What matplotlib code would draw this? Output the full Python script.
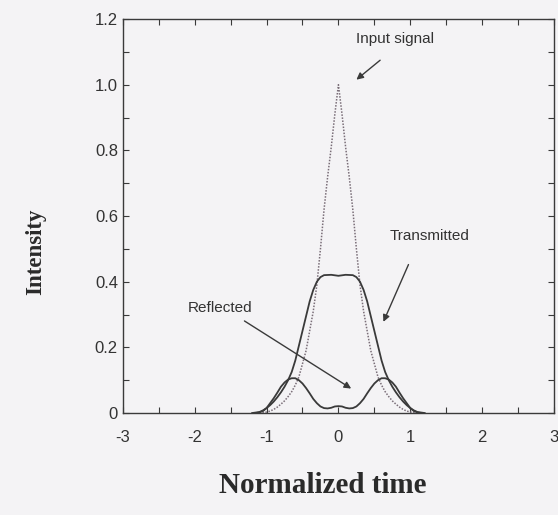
import numpy as np
import matplotlib
matplotlib.use('Agg')
import matplotlib.pyplot as plt
from matplotlib.ticker import MultipleLocator, FixedLocator

# values (right halves mirror the left halves)
t_input = [-1.1, -1.0, -0.95, -0.9, -0.85, -0.8, -0.75, -0.7, -0.65, -0.6, -0.55, -0.5,
           -0.45, -0.4, -0.35, -0.3, -0.25, -0.2, -0.15, -0.1, -0.05, 0.0,
           0.05, 0.1, 0.15, 0.2, 0.25, 0.3, 0.35, 0.4, 0.45, 0.5, 0.55, 0.6,
           0.65, 0.7, 0.75, 0.8, 0.85, 0.9, 0.95, 1.0, 1.1]
input_signal = [0.0, 0.003, 0.006, 0.011, 0.018, 0.027, 0.037, 0.05, 0.065, 0.085, 0.11, 0.15,
                0.19, 0.25, 0.31, 0.39, 0.5, 0.62, 0.72, 0.81, 0.91, 1.0,
                0.91, 0.81, 0.72, 0.62, 0.5, 0.39, 0.31, 0.25, 0.19, 0.15, 0.11, 0.085,
                0.065, 0.05, 0.037, 0.027, 0.018, 0.011, 0.006, 0.003, 0.0]

t_trans = [-1.2, -1.1, -1.05, -1.0, -0.95, -0.9, -0.85, -0.8, -0.75, -0.7, -0.65, -0.6,
           -0.55, -0.5, -0.45, -0.4, -0.35, -0.3, -0.25, -0.2, -0.1, 0.0,
           0.1, 0.2, 0.25, 0.3, 0.35, 0.4, 0.45, 0.5, 0.55, 0.6, 0.65, 0.7,
           0.75, 0.8, 0.85, 0.9, 0.95, 1.0, 1.05, 1.1, 1.2]
transmitted = [0.0, 0.003, 0.008, 0.015, 0.024, 0.035, 0.048, 0.063, 0.08, 0.1, 0.125, 0.16,
               0.205, 0.25, 0.295, 0.34, 0.375, 0.4, 0.414, 0.42, 0.421, 0.418,
               0.421, 0.42, 0.414, 0.4, 0.375, 0.34, 0.295, 0.25, 0.205, 0.16, 0.125, 0.1,
               0.08, 0.063, 0.048, 0.035, 0.024, 0.015, 0.008, 0.003, 0.0]

t_refl = [-1.15, -1.1, -1.05, -1.0, -0.95, -0.9, -0.85, -0.8, -0.75, -0.7, -0.65, -0.6,
          -0.55, -0.5, -0.45, -0.4, -0.35, -0.3, -0.25, -0.2, -0.15, -0.1, -0.05, 0.0,
          0.05, 0.1, 0.15, 0.2, 0.25, 0.3, 0.35, 0.4, 0.45, 0.5, 0.55, 0.6,
          0.65, 0.7, 0.75, 0.8, 0.85, 0.9, 0.95, 1.0, 1.05, 1.1, 1.15]
reflected = [0.0, 0.002, 0.006, 0.015, 0.03, 0.045, 0.062, 0.08, 0.093, 0.102, 0.106, 0.106,
             0.1, 0.09, 0.076, 0.06, 0.043, 0.03, 0.02, 0.015, 0.014, 0.016, 0.02, 0.021,
             0.02, 0.016, 0.014, 0.015, 0.02, 0.03, 0.043, 0.06, 0.076, 0.09, 0.1, 0.106,
             0.106, 0.102, 0.093, 0.08, 0.062, 0.045, 0.03, 0.015, 0.006, 0.002, 0.0]

x_labels = ['-3', '-2', '-1', '0', '1', '2', '3']
y_labels = ['0', '0.2', '0.4', '0.6', '0.8', '1.0', '1.2']

bg = '#f4f3f5'
ink = '#3a3a3a'

fig = plt.figure(figsize=(5.58, 5.15), dpi=100, facecolor=bg)
ax = fig.add_axes([0.22, 0.198, 0.773, 0.765], facecolor=bg)

ax.plot(t_input, input_signal, linestyle=(0, (1, 1)), color='#7a6e78', lw=1.1)
ax.plot(t_trans, transmitted, color=ink, lw=1.3)
ax.plot(t_refl, reflected, color=ink, lw=1.3)

ax.set_xlim(-3, 3)
ax.set_ylim(0, 1.2)
ax.xaxis.set_major_locator(FixedLocator(range(-3, 4)))
ax.set_xticklabels(x_labels)
ax.xaxis.set_minor_locator(MultipleLocator(0.5))
ax.yaxis.set_major_locator(FixedLocator([0, 0.2, 0.4, 0.6, 0.8, 1.0, 1.2]))
ax.set_yticklabels(y_labels)
ax.yaxis.set_minor_locator(MultipleLocator(0.1))
ax.tick_params(which='both', direction='in', top=True, right=True, length=4,
               width=0.8, color=ink, labelsize=12, labelcolor='#333333',
               labelfontfamily='Liberation Sans')
ax.tick_params(axis='x', pad=12)
for s in ax.spines.values():
    s.set_color(ink)
    s.set_linewidth(1.0)

ax.set_xlabel('Normalized time', family='Liberation Serif', fontweight='bold',
              fontsize=21, color='#2a2a2a', va='center')
ax.set_ylabel('Intensity', family='Liberation Serif', fontweight='bold',
              fontsize=16.5, color='#2a2a2a', va='center')
ax.xaxis.set_label_coords(0.464, -0.183)
ax.yaxis.set_label_coords(-0.202, 0.41)

arrow = dict(arrowstyle='-|>', color=ink, lw=1.0, mutation_scale=10)
txt = dict(fontsize=11, family='Liberation Sans', color='#333333', ha='center', va='center')
ax.annotate('', xy=(0.22, 1.01), xytext=(0.61, 1.08), arrowprops=arrow)
ax.text(0.79, 1.14, 'Input signal', **txt)
ax.annotate('', xy=(0.61, 0.27), xytext=(0.99, 0.46), arrowprops=arrow)
ax.text(1.27, 0.54, 'Transmitted', **txt)
ax.annotate('', xy=(0.21, 0.07), xytext=(-1.34, 0.285), arrowprops=arrow)
ax.text(-1.64, 0.32, 'Reflected', **txt)

fig.savefig('out.png', dpi=100, facecolor=bg)
